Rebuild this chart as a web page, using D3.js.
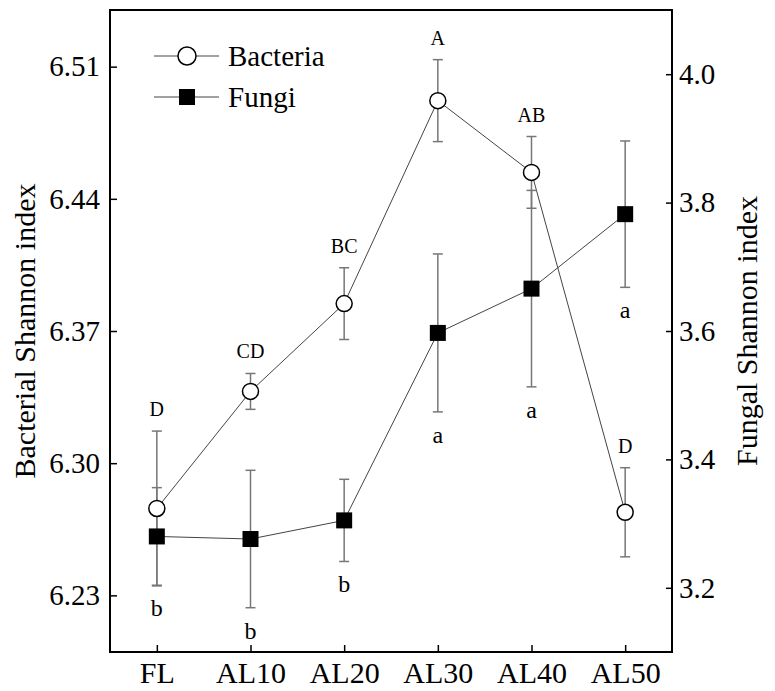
<!DOCTYPE html>
<html>
<head>
<meta charset="utf-8">
<script src="https://cdn.jsdelivr.net/npm/d3@7"></script>
<style>
  body { margin: 0; background: #fff; }
</style>
</head>
<body>
<div id="chart"></div>
<script>
// Data
const treatments = ["FL", "AL10", "AL20", "AL30", "AL40", "AL50"];
const bacteria = [6.276, 6.338, 6.3845, 6.492, 6.454, 6.274];
const bacteriaErr = [0.041, 0.0095, 0.019, 0.0217, 0.019, 0.0236];
const bacteriaLetters = ["D", "CD", "BC", "A", "AB", "D"];
const fungi = [3.280, 3.276, 3.305, 3.597, 3.666, 3.782];
const fungiErr = [0.076, 0.107, 0.064, 0.123, 0.153, 0.114];
const fungiLetters = ["b", "b", "b", "a", "a", "a"];
const leftTicks = [6.23, 6.30, 6.37, 6.44, 6.51];
const rightTicks = [3.2, 3.4, 3.6, 3.8, 4.0];

const width = 775, height = 691;
const plot = { left: 110, right: 672, top: 10, bottom: 652 };
const serif = "'Liberation Serif', 'Times New Roman', Times, 'DejaVu Serif', serif";

const svg = d3.select("#chart").append("svg")
  .attr("width", width)
  .attr("height", height)
  .attr("font-family", serif);

const x = d3.scalePoint().domain(treatments).range([plot.left, plot.right]).padding(0.5);
const yB = d3.scaleLinear().domain([6.2, 6.54]).range([plot.bottom, plot.top]);
const yF = d3.scaleLinear().domain([3.1, 4.1]).range([plot.bottom, plot.top]);

const bRows = treatments.map((t, i) => ({ t, v: bacteria[i], e: bacteriaErr[i], l: bacteriaLetters[i] }));
const fRows = treatments.map((t, i) => ({ t, v: fungi[i], e: fungiErr[i], l: fungiLetters[i] }));

// axes (ticks point inward)
const gl = svg.append("g").attr("transform", `translate(${plot.left},0)`)
  .call(d3.axisLeft(yB).tickValues(leftTicks).tickFormat(d3.format(".2f")).tickSize(-7).tickPadding(10));
const gr = svg.append("g").attr("transform", `translate(${plot.right},0)`)
  .call(d3.axisRight(yF).tickValues(rightTicks).tickFormat(d3.format(".1f")).tickSize(-6).tickPadding(7));
const gb = svg.append("g").attr("transform", `translate(0,${plot.bottom})`)
  .call(d3.axisBottom(x).tickSize(-7).tickPadding(10));

[gl, gr, gb].forEach(g => {
  g.attr("font-family", serif).attr("font-size", 29);
  g.select(".domain").remove();
  g.selectAll(".tick line").attr("stroke", "#000").attr("stroke-width", 1.5);
  g.selectAll(".tick text").attr("fill", "#000");
});
gb.attr("font-size", 30);

svg.append("rect")
  .attr("x", plot.left).attr("y", plot.top)
  .attr("width", plot.right - plot.left).attr("height", plot.bottom - plot.top)
  .attr("fill", "none").attr("stroke", "#000").attr("stroke-width", 2);

// axis titles
svg.append("text")
  .attr("transform", `translate(35,${(plot.top + plot.bottom) / 2}) rotate(-90)`)
  .attr("text-anchor", "middle").attr("font-size", 30)
  .text("Bacterial Shannon index");
svg.append("text")
  .attr("transform", `translate(757,${(plot.top + plot.bottom) / 2}) rotate(-90)`)
  .attr("text-anchor", "middle").attr("font-size", 30)
  .text("Fungal Shannon index");

// connecting lines
const lineB = d3.line().x(d => x(d.t)).y(d => yB(d.v));
const lineF = d3.line().x(d => x(d.t)).y(d => yF(d.v));
svg.append("path").datum(fRows).attr("d", lineF)
  .attr("fill", "none").attr("stroke", "#444").attr("stroke-width", 1);
svg.append("path").datum(bRows).attr("d", lineB)
  .attr("fill", "none").attr("stroke", "#444").attr("stroke-width", 1);

// error bars
function errorBars(rows, y, cls) {
  const g = svg.append("g").attr("class", cls)
    .attr("stroke", "#777").attr("stroke-width", 1.5);
  g.selectAll(".v").data(rows).join("line")
    .attr("x1", d => x(d.t)).attr("x2", d => x(d.t))
    .attr("y1", d => y(d.v - d.e)).attr("y2", d => y(d.v + d.e));
  g.selectAll(".cap-top").data(rows).join("line")
    .attr("x1", d => x(d.t) - 5).attr("x2", d => x(d.t) + 5)
    .attr("y1", d => y(d.v + d.e)).attr("y2", d => y(d.v + d.e));
  g.selectAll(".cap-bot").data(rows).join("line")
    .attr("x1", d => x(d.t) - 5).attr("x2", d => x(d.t) + 5)
    .attr("y1", d => y(d.v - d.e)).attr("y2", d => y(d.v - d.e));
}
errorBars(fRows, yF, "err-f");
errorBars(bRows, yB, "err-b");

// markers
svg.selectAll(".fungi-pt").data(fRows).join("rect")
  .attr("class", "fungi-pt")
  .attr("x", d => x(d.t) - 8).attr("y", d => yF(d.v) - 8)
  .attr("width", 16).attr("height", 16)
  .attr("fill", "#000");
svg.selectAll(".bact-pt").data(bRows).join("circle")
  .attr("class", "bact-pt")
  .attr("cx", d => x(d.t)).attr("cy", d => yB(d.v))
  .attr("r", 8).attr("fill", "#fff")
  .attr("stroke", "#000").attr("stroke-width", 1.5);

// significance letters
svg.selectAll(".bact-lab").data(bRows).join("text")
  .attr("class", "bact-lab")
  .attr("x", d => x(d.t)).attr("y", d => yB(d.v + d.e) - 15)
  .attr("text-anchor", "middle").attr("font-size", 20)
  .text(d => d.l);
svg.selectAll(".fungi-lab").data(fRows).join("text")
  .attr("class", "fungi-lab")
  .attr("x", d => x(d.t)).attr("y", d => yF(d.v - d.e) + 31)
  .attr("text-anchor", "middle").attr("font-size", 24)
  .text(d => d.l);

// legend
const legend = svg.append("g");
const legendRows = [{ name: "Bacteria", y: 56 }, { name: "Fungi", y: 97 }];
legendRows.forEach((r, i) => {
  legend.append("line").attr("x1", 154).attr("x2", 219).attr("y1", r.y).attr("y2", r.y)
    .attr("stroke", "#444").attr("stroke-width", 1);
  if (i === 0) {
    legend.append("circle").attr("cx", 187).attr("cy", r.y).attr("r", 9)
      .attr("fill", "#fff").attr("stroke", "#000").attr("stroke-width", 1.5);
  } else {
    legend.append("rect").attr("x", 179).attr("y", r.y - 8).attr("width", 16).attr("height", 16)
      .attr("fill", "#000");
  }
  legend.append("text").attr("x", 228).attr("y", r.y + 10)
    .attr("font-size", 29).text(r.name);
});
</script>
</body>
</html>
